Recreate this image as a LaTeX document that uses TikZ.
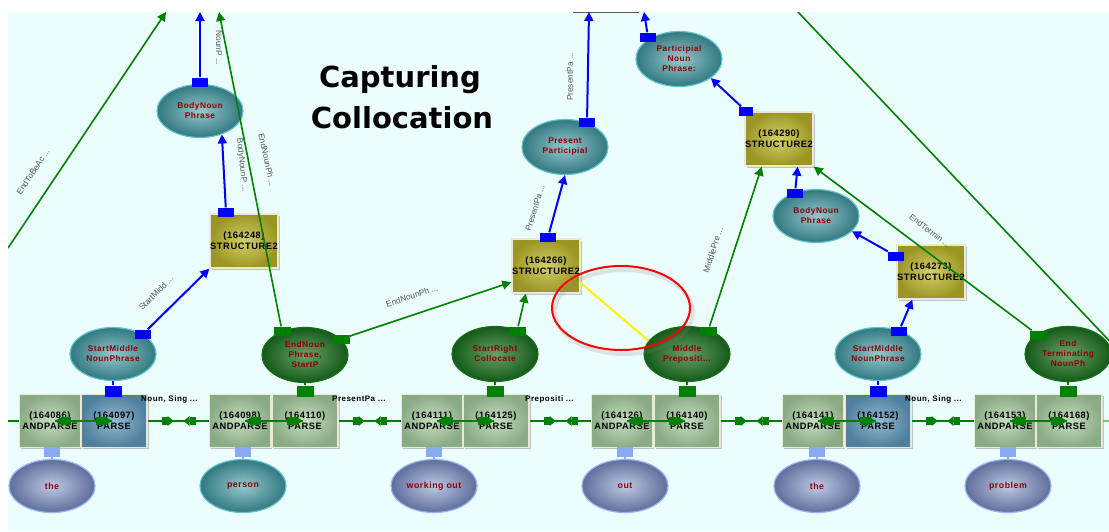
\documentclass[tikz,border=0pt]{standalone}
\usepackage{fontspec}
\setmainfont{Liberation Sans}
\newfontfamily\titlefont{DejaVu Sans}
\newfontfamily\pixfont[LetterSpace=6]{Liberation Sans}
\usepackage{tikz}
\usetikzlibrary{arrows.meta,shapes.geometric,shadows,decorations.markings}

\definecolor{bgcyan}{RGB}{236,253,253}
\definecolor{linegreen}{RGB}{0,128,0}
\definecolor{ltgreen}{RGB}{120,200,120}
\definecolor{lexblue}{RGB}{136,170,240}
\definecolor{tealin}{RGB}{150,200,205}
\definecolor{tealout}{RGB}{50,120,128}
\definecolor{tealrim}{RGB}{95,195,205}
\definecolor{dgin}{RGB}{105,160,105}
\definecolor{dgout}{RGB}{20,90,25}
\definecolor{dgrim}{RGB}{20,110,20}
\definecolor{slin}{RGB}{190,200,228}
\definecolor{slout}{RGB}{95,110,155}
\definecolor{slrim}{RGB}{150,180,245}
\definecolor{andin}{RGB}{198,220,192}
\definecolor{andout}{RGB}{138,172,132}
\definecolor{parin}{RGB}{145,186,208}
\definecolor{parout}{RGB}{80,128,158}
\definecolor{strin}{RGB}{212,207,105}
\definecolor{strout}{RGB}{155,150,35}
\definecolor{framecol}{RGB}{235,232,215}
\definecolor{wordred}{RGB}{139,0,0}
\definecolor{lblgray}{RGB}{85,85,85}

\begin{document}
\begin{tikzpicture}[x=1pt, y=-1pt,
    andbox/.style={rectangle, draw=framecol, line width=1.3pt, inner color=andin, outer color=andout,
      minimum width=61pt, minimum height=53pt, inner sep=0pt, align=center,
      drop shadow={shadow xshift=1.5pt, shadow yshift=-1.5pt, opacity=.45, fill=gray},
      font=\pixfont\bfseries\fontsize{9.3}{11}\selectfont},
    parsebox/.style={andbox, minimum width=66pt},
    bparsebox/.style={parsebox, inner color=parin, outer color=parout},
    strbox/.style={andbox, minimum width=68pt, minimum height=54pt, inner color=strin, outer color=strout},
    word/.style={ellipse, minimum width=86pt, minimum height=53pt, inner sep=0pt, align=center,
      line width=1.2pt, text=wordred, font=\pixfont\bfseries\fontsize{8.3}{10}\selectfont},
    tealword/.style={word, draw=tealrim, inner color=tealin, outer color=tealout},
    greenword/.style={word, draw=dgrim, inner color=dgin, outer color=dgout, minimum height=55pt},
    lexword/.style={word, draw=slrim, inner color=slin, outer color=slout, font=\pixfont\bfseries\fontsize{8.8}{10}\selectfont},
    btab/.style={rectangle, fill=blue, minimum width=16pt, minimum height=9pt, inner sep=0pt},
    gtab/.style={btab, fill=linegreen, minimum width=17pt},
    stubb/.style={btab, minimum width=17pt, minimum height=11pt},
    stubg/.style={stubb, fill=linegreen},
    ltab/.style={btab, fill=lexblue, minimum height=10pt},
    gline/.style={draw=linegreen, line width=1.6pt},
    bline/.style={draw=blue, line width=2pt},
    lbline/.style={draw=lexblue, line width=2pt},
    yline/.style={draw=yellow, line width=2pt},
    arr/.style={-{Triangle[length=9pt,width=9pt]}},
    lbl/.style={text=lblgray, inner sep=0pt, font=\fontsize{8.3}{9}\selectfont},
    boxlbl/.style={anchor=west, inner sep=0pt, font=\pixfont\bfseries\fontsize{8}{9}\selectfont},
    titletext/.style={anchor=base, font=\titlefont\bfseries\fontsize{29}{34}\selectfont},
    pairlink/.style={gline, postaction={decorate}, decoration={markings,
      mark=at position 0.001 with {\fill[linegreen] (0pt,0pt) -- (8pt,5pt) -- (8pt,-5pt) -- cycle;
        \fill[linegreen] (8pt,-4pt) rectangle (16pt,4pt);},
      mark=at position 0.999 with {\fill[linegreen] (0pt,0pt) -- (-8pt,5pt) -- (-8pt,-5pt) -- cycle;
        \fill[linegreen] (-8pt,-4pt) rectangle (-16pt,4pt);}}},
    glink/.style={gline, postaction={decorate}, decoration={markings,
      mark=at position 20pt with {\fill[linegreen] (-6pt,-4pt) rectangle (0pt,4pt);
        \fill[linegreen] (0pt,-5pt) -- (6pt,0pt) -- (0pt,5pt) -- cycle;},
      mark=at position 42pt with {\fill[linegreen] (0pt,-5pt) -- (-6pt,0pt) -- (0pt,5pt) -- cycle;
        \fill[linegreen] (0pt,-4pt) rectangle (6pt,4pt);}}}]

\useasboundingbox (0,0) rectangle (1109,531);
\fill[white] (0,0) rectangle (1109,531);
\fill[bgcyan] (8,12) rectangle (1109,531);

\begin{scope}
\clip (8,12) rectangle (1109,531);

% title
\node[titletext] (cap) at (400,87) {Capturing};
\node[titletext] (col) at (402,128) {Collocation};

% parse row
\node[andbox] (a1) at (50,421) {(164086)\\ANDPARSE};
\node[bparsebox] (p1) at (114,421) {(164097)\\PARSE};
\node[andbox] (a2) at (240,421) {(164098)\\ANDPARSE};
\node[parsebox] (p2) at (305,421) {(164110)\\PARSE};
\node[andbox] (a3) at (432,421) {(164111)\\ANDPARSE};
\node[parsebox] (p3) at (496,421) {(164125)\\PARSE};
\node[andbox] (a4) at (622,421) {(164126)\\ANDPARSE};
\node[parsebox] (p4) at (687,421) {(164140)\\PARSE};
\node[andbox] (a5) at (813,421) {(164141)\\ANDPARSE};
\node[bparsebox] (p5) at (878,421) {(164152)\\PARSE};
\node[andbox] (a6) at (1005,421) {(164153)\\ANDPARSE};
\node[parsebox] (p6) at (1069,421) {(164168)\\PARSE};

% words
\node[lexword] (w1) at (52,486) {the};
\node[tealword, font=\pixfont\bfseries\fontsize{8.8}{10}\selectfont] (w2) at (243,486) {person};
\node[lexword] (w3) at (434,486) {working out};
\node[lexword] (w4) at (625,486) {out};
\node[lexword] (w5) at (817,486) {the};
\node[lexword] (w6) at (1008,486) {problem};

% phrase parts
\node[tealword] (e1) at (113,354) {StartMiddle\\NounPhrase};
\node[greenword] (e2) at (305,355) {EndNoun\\Phrase,\\StartP};
\node[greenword] (e3) at (495,354) {StartRight\\Collocate};
\node[greenword] (e4) at (687,354) {Middle\\Prepositi...};
\node[tealword] (e5) at (878,354) {StartMiddle\\NounPhrase};
\node[greenword] (e6) at (1068,354) {End\\Terminating\\NounPh};
\node[tealword] (e7) at (200,111) {BodyNoun\\Phrase};
\node[tealword, minimum height=55pt] (e8) at (565,147) {Present\\Participial};
\node[tealword, minimum height=55pt] (e9) at (679,59) {Participial\\Noun\\Phrase:};
\node[tealword] (e10) at (816,216) {BodyNoun\\Phrase};

% structures
\node[strbox] (s1) at (244,241) {(164248)\\STRUCTURE2};
\node[strbox] (s2) at (546,266) {(164266)\\STRUCTURE2};
\node[strbox] (s3) at (779,139) {(164290)\\STRUCTURE2};
\node[strbox] (s4) at (931,272) {(164273)\\STRUCTURE2};

% tabs
\node[btab] (bt1) at (143,334) {};
\node[btab] (bt2) at (226,212) {};
\node[btab] (bt3) at (200,82) {};
\node[btab] (bt4) at (548,237) {};
\node[btab] (bt5) at (587,122) {};
\node[btab] (bt6) at (648,37) {};
\node[btab, minimum width=14pt] (bt7) at (746,111) {};
\node[btab] (bt8) at (795,193) {};
\node[btab] (bt9) at (896,256) {};
\node[btab] (bt10) at (899,331) {};
\node[gtab] (gt1) at (282,331) {};
\node[gtab] (gt2) at (341,339) {};
\node[gtab] (gt3) at (517,331) {};
\node[gtab] (gt4) at (708,331) {};
\node[gtab] (gt5) at (1038,335) {};
\node[stubb] (st1) at (113,391) {};
\node[stubg] (st2) at (305,391) {};
\node[stubg] (st3) at (495,391) {};
\node[stubg] (st4) at (687,391) {};
\node[stubb] (st5) at (878,391) {};
\node[stubg] (st6) at (1068,391) {};
\node[ltab] (lt1) at (52,452) {};
\node[ltab] (lt2) at (243,452) {};
\node[ltab] (lt3) at (434,452) {};
\node[ltab] (lt4) at (625,452) {};
\node[ltab] (lt5) at (817,452) {};
\node[ltab] (lt6) at (1008,452) {};

% loose ends
\coordinate (ct1) at (200,12);
\coordinate (ct2) at (219,12);
\coordinate (ct3) at (166,12);
\coordinate (ct4) at (589,12);
\coordinate (ct5) at (644,12);
\coordinate (ct6) at (798,12);
\coordinate (cl1) at (8,248);
\coordinate (cr1) at (1118,350);
\coordinate (cl0) at (8,421);
\coordinate (cr0) at (1109,421);

\draw[gray!70!black, line width=1.2pt] (573,12.6) -- (639,12.6);

% stubs
\draw[bline] (e1) -- (st1);
\draw[gline] (e2) -- (st2);
\draw[gline] (e3) -- (st3);
\draw[gline] (e4) -- (st4);
\draw[bline] (e5) -- (st5);
\draw[gline] (e6) -- (st6);
\draw[lbline] (lt1) -- (w1);
\draw[lbline] (lt2) -- (w2);
\draw[lbline] (lt3) -- (w3);
\draw[lbline] (lt4) -- (w4);
\draw[lbline] (lt5) -- (w5);
\draw[lbline] (lt6) -- (w6);

% parse chain
\draw[gline] (cl0) -- (a1);
\draw[pairlink] ([xshift=5pt]a1.center) -- ([xshift=-2pt]p1.center);
\draw[glink] (p1) -- (a2);
\draw[pairlink] ([xshift=5pt]a2.center) -- ([xshift=-2pt]p2.center);
\draw[glink] (p2) -- (a3);
\draw[pairlink] ([xshift=5pt]a3.center) -- ([xshift=-2pt]p3.center);
\draw[glink] (p3) -- (a4);
\draw[pairlink] ([xshift=5pt]a4.center) -- ([xshift=-2pt]p4.center);
\draw[glink] (p4) -- (a5);
\draw[pairlink] ([xshift=5pt]a5.center) -- ([xshift=-2pt]p5.center);
\draw[glink] (p5) -- (a6);
\draw[pairlink] ([xshift=5pt]a6.center) -- ([xshift=-2pt]p6.center);
\draw[gline, draw=ltgreen] (p6) -- (cr0);

% blue links
\draw[bline, arr] (bt1) -- (s1.south west);
\draw[bline, arr] (bt2) -- (e7.-47);
\draw[bline, arr] (bt3) -- (ct1);
\draw[bline, arr] (bt4) -- (e8.south);
\draw[bline, arr] (bt5) -- (ct4);
\draw[bline, arr] (bt6) -- (ct5);
\draw[bline, arr] (bt7) -- (e9.-31);
\draw[bline, arr] (bt8) -- (s3.-56);
\draw[bline, arr] (bt9) -- (e10.-23);
\draw[bline, arr] (bt10) -- (s4.236);

% green links
\draw[gline, arr] (gt1) -- (ct2);
\draw[gline, arr] (gt2) -- (s2.205);
\draw[gline, arr] (gt3) -- (s2.234);
\draw[gline, arr] (gt4) -- (s3.238);
\draw[gline, arr] (gt5) -- (s3.south east);
\draw[gline, arr] (cl1) -- (ct3);
\draw[gline] (ct6) -- (cr1);
\draw[yline] (s2.-26) -- (e4.161);

% highlight ring
\draw[gray, opacity=.2, line width=4pt] (624,312) ellipse [x radius=69, y radius=42];
\draw[red, line width=2pt] (621,308) ellipse [x radius=69, y radius=42];

% link labels
\node[lbl, rotate=56] (lb1) at (33,172) {EndToBeAc ...};
\node[lbl, rotate=-90] (lb2) at (219,48) {NounP ...};
\node[lbl, rotate=-84] (lb3) at (242,165) {BodyNounP ...};
\node[lbl, rotate=-78] (lb4) at (267,160) {EndNounPh ...};
\node[lbl, rotate=45] (lb5) at (156,293) {StartMidd ...};
\node[lbl, rotate=18] (lb6) at (412,296) {EndNounPh ...};
\node[lbl, rotate=73] (lb7) at (535,208) {PresentPa ...};
\node[lbl, rotate=90] (lb8) at (570,77) {PresentPa ...};
\node[lbl, rotate=72] (lb9) at (713,250) {MiddlePre ...};
\node[lbl, rotate=-37] (lb10) at (930,231) {EndTermin ...};

\node[boxlbl] (bl1) at (141,399) {Noun, Sing ...};
\node[boxlbl] (bl2) at (332,399) {PresentPa ...};
\node[boxlbl] (bl3) at (525,399) {Prepositi ...};
\node[boxlbl] (bl4) at (905,399) {Noun, Sing ...};
\end{scope}
\end{tikzpicture}
\end{document}
